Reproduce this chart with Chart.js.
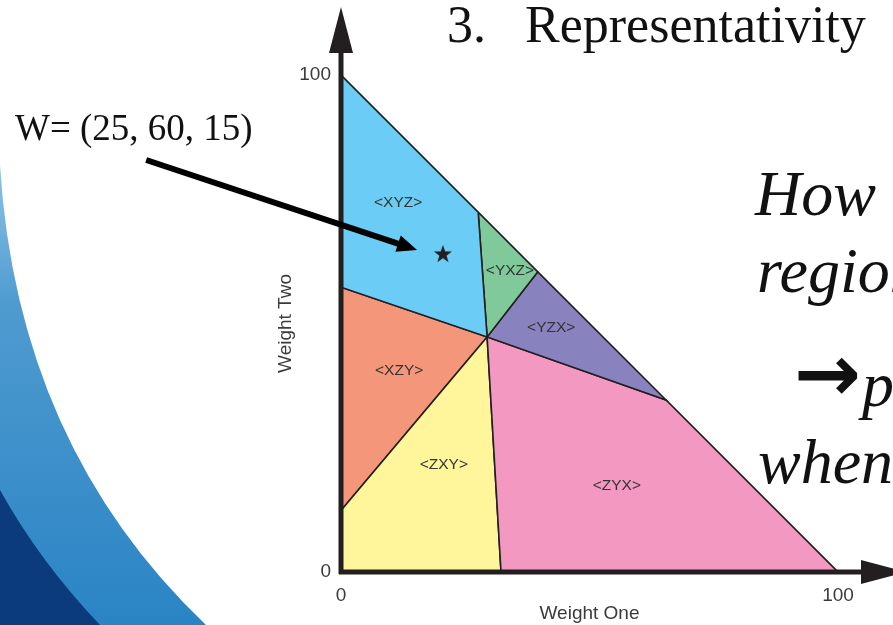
<!DOCTYPE html>
<html>
<head>
<meta charset="utf-8">
<script src="https://cdn.jsdelivr.net/npm/chart.js@4.4.1/dist/chart.umd.min.js"></script>
<style>
  body { margin: 0; background: #fff; overflow: hidden; }
  #wrap { position: relative; width: 893px; height: 625px; overflow: hidden; }
  #wrap canvas { position: absolute; left: 0; top: 0; }
  .txt { position: absolute; white-space: nowrap; font-family: "Liberation Serif", "Times New Roman", serif; color: #111; line-height: 1; }
  .it { font-style: italic; font-size: 64px; }
</style>
</head>
<body>
<div id="wrap">
  <canvas id="graficoPesos" width="893" height="625"></canvas>
  <div class="txt" style="left:447px; top:-1px; font-size:52px;">3.</div>
  <div class="txt" style="left:525px; top:-1px; font-size:52px;">Representativity</div>
  <div class="txt" style="left:15px; top:109px; font-size:37px;">W= (25, 60, 15)</div>
  <div class="txt it" style="left:755px; top:162px;">How</div>
  <div class="txt it" style="left:757px; top:239px;">region</div>
  <div class="txt" style="left:794px; top:334px; font-family:'DejaVu Sans'; font-weight:bold; font-size:80px;">→</div>
  <div class="txt it" style="left:862px; top:353px;">p</div>
  <div class="txt it" style="left:758px; top:430px;">when</div>
</div>
<script>
// regiones del triangulo de pesos (Weight One, Weight Two)
const nombresRegion = ["<XYZ>", "<YXZ>", "<YZX>", "<ZYX>", "<ZXY>", "<XZY>"];
const regionPesoUno = [
    [0, 27.6, 29.4, 0],
    [27.6, 39.6, 29.4],
    [39.6, 65.4, 29.4],
    [29.4, 65.4, 100, 32.2],
    [29.4, 32.2, 0, 0],
    [0, 29.4, 0],
];
const regionPesoDos = [
    [100, 72.4, 47.3, 57.3],
    [72.4, 60.4, 47.3],
    [60.4, 34.6, 47.3],
    [47.3, 34.6, 0, 0],
    [47.3, 0, 0, 12.4],
    [57.3, 47.3, 12.4],
];
const etiquetaPesoUno = [11.5, 34, 42.3, 55.5, 20.7, 11.7];
const etiquetaPesoDos = [74.4, 60.6, 49.1, 17.3, 21.5, 40.4];
const estrellaPesoUno = [20.5];
const estrellaPesoDos = [64];
const ticksEjes = [0, 100];

const coloresRegion = ["#6bcdf5", "#80c99b", "#8883bf", "#f398c1", "#fff59b", "#f49679"];

// estrella rellena para el punto W
const estrella = document.createElement("canvas");
estrella.width = 20;
estrella.height = 20;
(function () {
    const c = estrella.getContext("2d");
    c.beginPath();
    for (let i = 0; i < 10; i++) {
        const r = i % 2 === 0 ? 9.5 : 3.8;
        const a = -Math.PI / 2 + (i * Math.PI) / 5;
        const px = 10 + r * Math.cos(a), py = 10.5 + r * Math.sin(a);
        i === 0 ? c.moveTo(px, py) : c.lineTo(px, py);
    }
    c.closePath();
    c.fillStyle = "#231f20";
    c.fill();
})();

const datasetsRegion = nombresRegion.map((nombre, i) => {
    const puntos = regionPesoUno[i].map((x, j) => ({ x: x, y: regionPesoDos[i][j] }));
    puntos.push(puntos[0]);
    return {
        label: nombre,
        data: puntos,
        showLine: true,
        fill: "shape",
        backgroundColor: coloresRegion[i],
        borderColor: "#231f20",
        borderWidth: 1.6,
        pointRadius: 0,
        tension: 0,
        order: 1,
    };
});

const datasetEstrella = {
    label: "W",
    data: estrellaPesoUno.map((x, i) => ({ x: x, y: estrellaPesoDos[i] })),
    pointStyle: estrella,
    pointRadius: 10,
    order: 0,
};

// fondo de la diapositiva (curvas azules)
const fondoPlugin = {
    id: "fondo",
    beforeDraw(chart) {
        const c = chart.ctx;
        c.save();
        const g = c.createLinearGradient(0, 165, 0, 625);
        g.addColorStop(0, "#8cc3e6");
        g.addColorStop(0.3, "#4f9bd0");
        g.addColorStop(1, "#2a84c4");
        c.beginPath();
        c.moveTo(0, 165);
        c.quadraticCurveTo(17, 445, 206, 625);
        c.lineTo(0, 625);
        c.closePath();
        c.fillStyle = g;
        c.fill();
        c.beginPath();
        c.moveTo(0, 490);
        c.quadraticCurveTo(40, 562, 100, 625);
        c.lineTo(0, 625);
        c.closePath();
        c.fillStyle = "#0b3b7c";
        c.fill();
        c.restore();
    },
};

// ejes con flechas, etiquetas de region y flecha hacia W
const dibujoPlugin = {
    id: "dibujo",
    afterDatasetsDraw(chart) {
        const c = chart.ctx;
        const sx = chart.scales.x, sy = chart.scales.y;
        const x0 = sx.getPixelForValue(0), x1 = sx.getPixelForValue(100);
        const y0 = sy.getPixelForValue(0), y1 = sy.getPixelForValue(100);
        c.save();

        c.font = "15.5px 'Liberation Sans', Arial, sans-serif";
        c.fillStyle = "#333";
        c.textAlign = "center";
        c.textBaseline = "middle";
        nombresRegion.forEach((n, i) => {
            c.fillText(n, sx.getPixelForValue(etiquetaPesoUno[i]), sy.getPixelForValue(etiquetaPesoDos[i]));
        });

        c.fillStyle = "#231f20";
        c.strokeStyle = "#231f20";
        c.lineWidth = 5;
        c.beginPath();
        c.moveTo(x0, y0 + 2);
        c.lineTo(x0, y1 - 25);
        c.moveTo(x0 - 2, y0);
        c.lineTo(x1 + 25, y0);
        c.stroke();
        c.beginPath();
        c.moveTo(x0, y1 - 68);
        c.lineTo(x0 - 12, y1 - 22);
        c.lineTo(x0 + 12, y1 - 22);
        c.closePath();
        c.fill();
        c.beginPath();
        c.moveTo(x1 + 68, y0);
        c.lineTo(x1 + 23, y0 - 12);
        c.lineTo(x1 + 23, y0 + 12);
        c.closePath();
        c.fill();

        const ax = sx.getPixelForValue(-39.2), ay = sy.getPixelForValue(82.9);
        const bx = sx.getPixelForValue(15.3), by = sy.getPixelForValue(64.8);
        const d = Math.hypot(bx - ax, by - ay);
        const ux = (bx - ax) / d, uy = (by - ay) / d;
        c.fillStyle = "#000";
        c.strokeStyle = "#000";
        c.lineWidth = 6;
        c.beginPath();
        c.moveTo(ax, ay);
        c.lineTo(bx - ux * 17, by - uy * 17);
        c.stroke();
        c.beginPath();
        c.moveTo(bx, by);
        c.lineTo(bx - ux * 20 - uy * 8.5, by - uy * 20 + ux * 8.5);
        c.lineTo(bx - ux * 20 + uy * 8.5, by - uy * 20 - ux * 8.5);
        c.closePath();
        c.fill();
        c.restore();
    },
};

const fuenteEje = { family: "'Liberation Sans', Arial, sans-serif", size: 19 };

const configPesos = {
    type: "scatter",
    data: { datasets: [...datasetsRegion, datasetEstrella] },
    options: {
        responsive: false,
        animation: false,
        layout: { padding: { left: 274, top: 75, right: 55, bottom: 0 } },
        plugins: {
            legend: { display: false },
            tooltip: { enabled: false },
        },
        scales: {
            x: {
                type: "linear",
                min: 0,
                max: 100,
                afterFit: (s) => { s.height = 53; },
                afterBuildTicks: (s) => { s.ticks = ticksEjes.map((v) => ({ value: v })); },
                grid: { display: false, drawTicks: false },
                border: { display: false },
                ticks: { padding: 12, color: "#3b3b3b", font: fuenteEje, maxRotation: 0 },
                title: { display: true, text: "Weight One", color: "#3b3b3b", font: fuenteEje, padding: 0 },
            },
            y: {
                type: "linear",
                min: 0,
                max: 100,
                afterFit: (s) => { s.width = 67; },
                afterBuildTicks: (s) => { s.ticks = ticksEjes.map((v) => ({ value: v })); },
                grid: { display: false, drawTicks: false },
                border: { display: false },
                ticks: { padding: 10, color: "#3b3b3b", font: fuenteEje },
                title: { display: true, text: "Weight Two", color: "#3b3b3b", font: fuenteEje, padding: 0 },
            },
        },
    },
    plugins: [fondoPlugin, dibujoPlugin],
};

const graficoPesos = new Chart(document.getElementById("graficoPesos"), configPesos);
</script>
</body>
</html>
